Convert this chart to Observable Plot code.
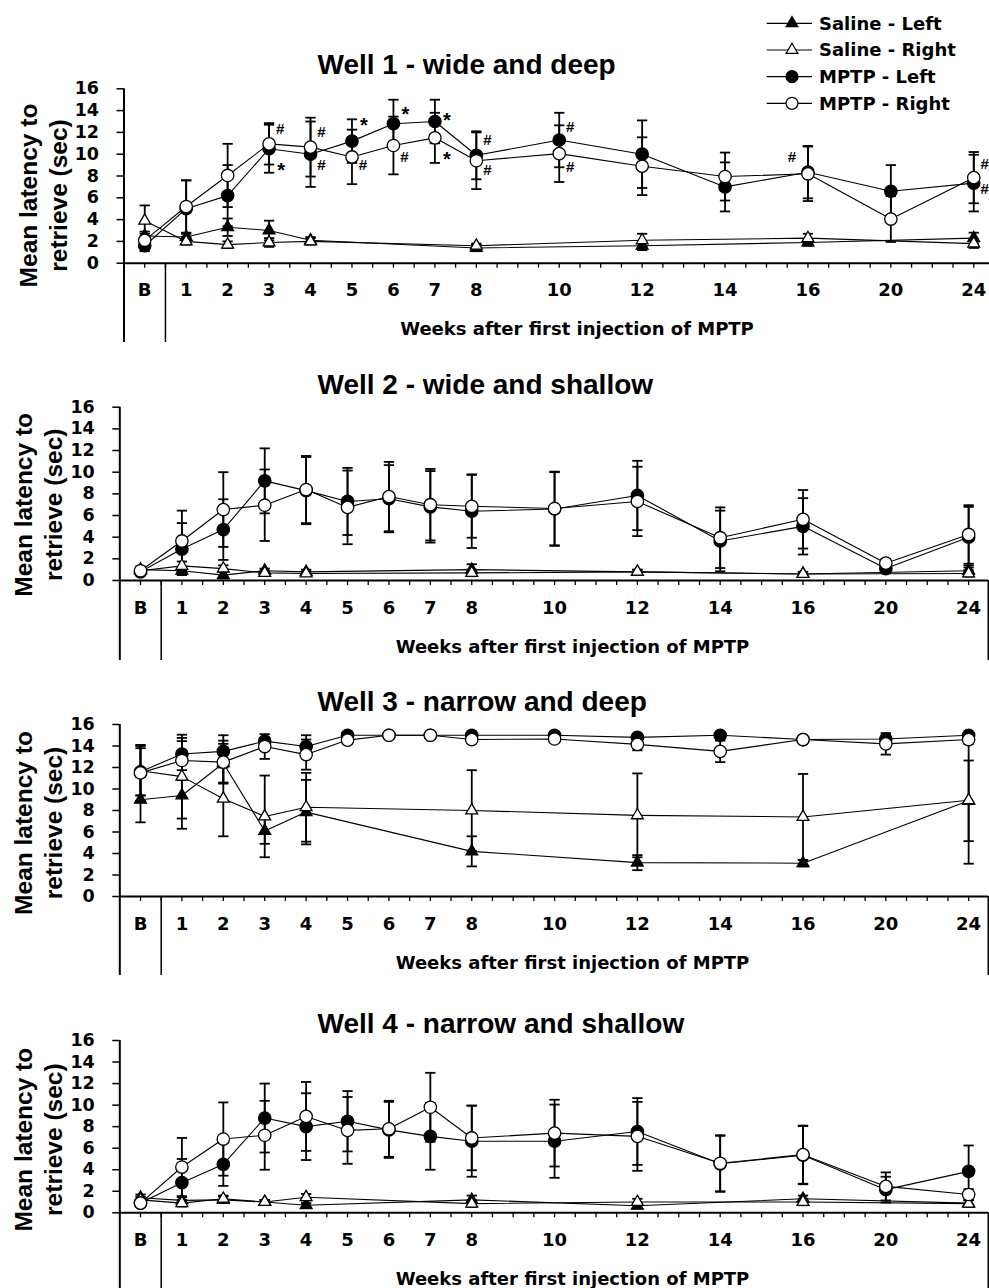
<!DOCTYPE html>
<html>
<head>
<meta charset="utf-8">
<script src="https://cdn.jsdelivr.net/npm/d3@7"></script>
<script src="https://cdn.jsdelivr.net/npm/@observablehq/plot@0.6"></script>
<style>
  html, body { margin: 0; padding: 0; background: #fff; }
  #chart { position: relative; width: 989px; height: 1288px; overflow: hidden; }
  #chart > svg { position: absolute; left: 0; }
</style>
</head>
<body>
<div id="chart"></div>
<script>
// ---------- categories / ticks ----------
const weeks = ["B","1","2","3","4","5","6","7","8","10","12","14","16","20","24"];
const slot  = [0, 1, 2, 3, 4, 5, 6, 7, 8, 10, 12, 14, 16, 18, 20]; // axis slot of each week label
const yTicks = [0, 2, 4, 6, 8, 10, 12, 14, 16];
const seriesNames = ["Saline - Left", "Saline - Right", "MPTP - Left", "MPTP - Right"];
const titles = ["Well 1 - wide and deep", "Well 2 - wide and shallow", "Well 3 - narrow and deep", "Well 4 - narrow and shallow"];
const xAxisTitle = "Weeks after first injection of MPTP";
const yAxisTitle = "Mean latency to\nretrieve (sec)";
const n = null;

// ---------- Well 1 ----------
const w1SalineLeft     = [2.5, 2.4, 3.3, 3.0, 2.1, n, n, n, 1.4, n, 1.6, n, 1.9, n, 2.3];
const w1SalineLeftErr  = [0.4, 0.3, 0.8, 0.9, 0.3, n, n, n, 0.3, n, 0.4, n, 0.3, n, 0.5];
const w1SalineRight    = [3.9, 2.0, 1.7, 1.9, 2.0, n, n, n, 1.6, n, 2.1, n, 2.3, n, 1.8];
const w1SalineRightErr = [1.4, 0.3, 0.3, 0.4, 0.3, n, n, n, 0.2, n, 0.6, n, 0.4, n, 0.4];
const w1MptpLeft       = [1.6, 5.0, 6.2, 10.5, 10.0, 11.2, 12.8, 13.0, 9.9, 11.3, 10.0, 7.0, 8.35, 6.6, 7.35];
const w1MptpLeftErr    = [0.5, 2.6, 2.8, 2.2, 3.0, 2.0, 2.2, 2.0, 2.2, 2.5, 3.1, 2.25, 2.4, 2.4, 2.6];
const w1MptpRight      = [2.1, 5.2, 8.05, 10.95, 10.65, 9.75, 10.8, 11.5, 9.4, 10.05, 8.9, 7.95, 8.2, 4.05, 7.85];
const w1MptpRightErr   = [0.6, 2.4, 2.9, 1.9, 2.7, 2.5, 2.65, 2.3, 2.6, 2.6, 2.65, 2.2, 2.5, 2.1, 2.35];

// ---------- Well 2 ----------
const w2SalineLeft     = [1.0, 0.9, 0.5, 0.9, 0.8, n, n, n, 1.0, n, 0.8, n, 0.6, n, 0.9];
const w2SalineLeftErr  = [0.3, 0.3, 0.3, 0.2, 0.2, n, n, n, 0.5, n, 0.2, n, 0.2, n, 0.5];
const w2SalineRight    = [0.9, 1.35, 1.1, 0.7, 0.65, n, n, n, 0.7, n, 0.8, n, 0.6, n, 0.65];
const w2SalineRightErr = [0.3, 0.4, 0.3, 0.2, 0.2, n, n, n, 0.3, n, 0.2, n, 0.2, n, 0.3];
const w2MptpLeft       = [0.8, 2.9, 4.7, 9.2, 8.3, 7.3, 7.55, 6.8, 6.4, 6.6, 7.85, 3.65, 5.0, 1.1, 4.0];
const w2MptpLeftErr    = [0.3, 2.4, 2.8, 3.0, 3.1, 3.1, 3.1, 3.3, 3.4, 3.4, 3.2, 2.8, 2.6, 0.4, 2.8];
const w2MptpRight      = [0.9, 3.65, 6.55, 6.95, 8.4, 6.75, 7.75, 7.0, 6.85, 6.65, 7.3, 3.95, 5.65, 1.6, 4.25];
const w2MptpRightErr   = [0.3, 2.8, 3.45, 3.3, 3.1, 3.4, 3.2, 3.3, 2.9, 3.4, 3.2, 2.8, 2.7, 0.4, 2.7];

// ---------- Well 3 ----------
const w3SalineLeft     = [9.0, 9.4, 12.4, 6.1, 7.85, n, n, n, 4.2, n, 3.15, n, 3.1, n, 8.9];
const w3SalineLeftErr  = [2.1, 3.1, 1.8, 1.2, 3.0, n, n, n, 1.4, n, 0.7, n, 0.3, n, 3.75];
const w3SalineRight    = [11.7, 11.15, 9.1, 7.45, 8.3, n, n, n, 8.0, n, 7.55, n, 7.4, n, 8.95];
const w3SalineRightErr = [2.3, 3.9, 3.5, 3.8, 3.2, n, n, n, 3.75, n, 3.9, n, 4.0, n, 5.9];
const w3MptpLeft       = [11.6, 13.25, 13.5, 14.45, 13.95, 15.0, 15.0, 15.0, 15.0, 15.0, 14.8, 15.0, 14.6, 14.65, 15.0];
const w3MptpLeftErr    = [2.2, 1.5, 1.5, 0.3, 1.05, 0, 0, 0, 0, 0, 0.2, 0, 0.2, 0.3, 0];
const w3MptpRight      = [11.5, 12.65, 12.5, 13.95, 13.2, 14.55, 15.0, 15.0, 14.6, 14.65, 14.15, 13.5, 14.6, 14.2, 14.6];
const w3MptpRightErr   = [2.6, 1.8, 2.0, 1.15, 1.4, 0.35, 0, 0, 0.3, 0.3, 0.55, 1.0, 0.2, 1.0, 0.4];

// ---------- Well 4 ----------
const w4SalineLeft     = [1.4, 1.15, 1.2, 1.0, 0.7, n, n, n, 1.2, n, 0.65, n, 1.3, n, 0.9];
const w4SalineLeftErr  = [0.3, 0.3, 0.3, 0.2, 0.2, n, n, n, 0.4, n, 0.2, n, 0.3, n, 0.3];
const w4SalineRight    = [1.2, 0.9, 1.3, 1.0, 1.45, n, n, n, 0.85, n, 1.0, n, 1.0, n, 0.85];
const w4SalineRightErr = [0.3, 0.3, 0.3, 0.2, 0.3, n, n, n, 0.3, n, 0.3, n, 0.3, n, 0.3];
const w4MptpLeft       = [0.9, 2.8, 4.5, 8.8, 8.0, 8.5, 7.7, 7.1, 6.65, 6.65, 7.55, 4.55, 5.35, 2.15, 3.85];
const w4MptpLeftErr    = [0.3, 2.2, 2.0, 3.2, 3.1, 2.8, 2.6, 3.1, 3.3, 3.4, 3.1, 2.6, 2.7, 1.2, 2.4];
const w4MptpRight      = [0.9, 4.25, 6.85, 7.2, 8.95, 7.65, 7.8, 9.8, 6.95, 7.4, 7.1, 4.6, 5.4, 2.45, 1.7];
const w4MptpRightErr   = [0.3, 2.7, 3.4, 3.2, 3.2, 3.1, 2.6, 3.2, 3.0, 3.1, 3.2, 2.6, 2.7, 1.3, 0.5];

// ---------- Well 1 significance marks ----------
const annWeek   = ["3", "3", "4", "4", "5", "5", "6", "6", "7", "7", "8", "8", "10", "10", "16", "24", "24"];
const annValue  = [12.3, 8.96, 12.0, 8.96, 13.1, 8.96, 14.07, 9.73, 13.55, 9.97, 11.26, 8.5, 12.48, 8.8, 9.73, 9.1, 6.8];
const annSymbol = ["#", "*", "#", "#", "*", "#", "*", "#", "*", "*", "#", "#", "#", "#", "#", "#", "#"];
const annSide   = ["r", "r", "r", "r", "r", "r", "r", "r", "r", "r", "r", "r", "r", "r", "l", "r", "r"];

// ---------- layout (pixels) ----------
const layouts = [
  {top: 0,   height: 342, mt: 88.3, mb: 79.3, ml: 123.5, mr: 0, xMax: 20.38, titleBase: 15,   yTitleDy: 19.5, xTitleX: 576.5, border: false},
  {top: 342, height: 318, mt: 64.7, mb: 80,   ml: 119.3, mr: 1, xMax: 20.48, titleBase: 13.7, yTitleDy: 11,   xTitleX: 572,   border: true},
  {top: 660, height: 315, mt: 64,   mb: 79,   ml: 119.3, mr: 1, xMax: 20.48, titleBase: 14,   yTitleDy: 12.5, xTitleX: 572,   border: true},
  {top: 975, height: 313, mt: 65,   mb: 75.7, ml: 119.3, mr: 1, xMax: 20.48, titleBase: 8,    yTitleDy: 13,   xTitleX: 572,   border: true}
];

const wellData = [
  [[w1SalineLeft, w1SalineLeftErr], [w1SalineRight, w1SalineRightErr], [w1MptpLeft, w1MptpLeftErr], [w1MptpRight, w1MptpRightErr]],
  [[w2SalineLeft, w2SalineLeftErr], [w2SalineRight, w2SalineRightErr], [w2MptpLeft, w2MptpLeftErr], [w2MptpRight, w2MptpRightErr]],
  [[w3SalineLeft, w3SalineLeftErr], [w3SalineRight, w3SalineRightErr], [w3MptpLeft, w3MptpLeftErr], [w3MptpRight, w3MptpRightErr]],
  [[w4SalineLeft, w4SalineLeftErr], [w4SalineRight, w4SalineRightErr], [w4MptpLeft, w4MptpLeftErr], [w4MptpRight, w4MptpRightErr]]
];

function rowsOf(values, errs, series) {
  return weeks.map((w, i) => values[i] == null ? null :
    {week: w, x: slot[i], v: values[i], e: errs[i] || 0, series}).filter(Boolean);
}

// horizontal cap symbol for error bars
const capSymbol = {
  draw(ctx, size) { const w = Math.sqrt(size); ctx.moveTo(-w, 0); ctx.lineTo(w, 0); }
};

const annRows = annWeek.map((w, i) => ({x: slot[weeks.indexOf(w)], v: annValue[i], sym: annSymbol[i], side: annSide[i]}));

const BOLD = "bold";
const SANS = "DejaVu Sans, sans-serif";
const ARIAL = "Liberation Sans, Arial, sans-serif";

function panel(k) {
  const L = layouts[k];
  const innerH = L.height - L.mt - L.mb;
  const yLow = -L.mb * 16 / innerH;
  const series = wellData[k].map(([v, e], s) => rowsOf(v, e, seriesNames[s]));
  const all = series.flat();
  const withErr = all.filter(d => d.e > 0);
  const symbols = ["triangle", "triangle", "circle", "circle"];
  const fills = ["black", "white", "black", "white"];
  const radii = [4.4, 4.4, 6.2, 6.2];

  const marks = [
    // axis frame lines
    Plot.ruleY([0], {stroke: "black", strokeWidth: 2}),
    Plot.ruleX([-0.5], {y1: 16, y2: yLow, stroke: "black", strokeWidth: 2}),
    Plot.ruleX([0.5], {y1: 0, y2: yLow, stroke: "black", strokeWidth: 1.5}),
    L.border ? Plot.ruleX([L.xMax], {y1: 0, y2: yLow, stroke: "black", strokeWidth: 2}) : null,
    Plot.axisY({ticks: yTicks, tickSize: 7, tickPadding: 18, strokeWidth: 1.5, fontSize: 17.5, fontWeight: BOLD, fontFamily: SANS, label: null}),
    Plot.axisX({ticks: d3.range(0, L.xMax, 0.5), tickSize: 5, strokeWidth: 1.3, tickFormat: () => "", label: null}),
    Plot.axisX({ticks: slot, tickSize: 0, tickPadding: 20.5, tickFormat: d => weeks[slot.indexOf(d)], fontSize: 18, fontWeight: BOLD, fontFamily: SANS, label: null}),
    // error bars
    Plot.ruleX(withErr, {x: "x", y1: d => d.v - d.e, y2: d => d.v + d.e, stroke: "black", strokeWidth: 1.8}),
    Plot.dot(withErr, {x: "x", y: d => d.v + d.e, symbol: capSymbol, r: 2.9, stroke: "black", strokeWidth: 1.8, fill: "none"}),
    Plot.dot(withErr, {x: "x", y: d => d.v - d.e, symbol: capSymbol, r: 2.9, stroke: "black", strokeWidth: 1.8, fill: "none"}),
    // lines
    Plot.line(all, {x: "x", y: "v", z: "series", stroke: "black", strokeWidth: 1.1}),
    // markers
    ...series.map((rows, s) => Plot.dot(rows, {x: "x", y: "v", symbol: symbols[s], r: radii[s], fill: fills[s], stroke: "black", strokeWidth: 1.3})),
    // titles
    Plot.text([titles[k]], {text: d => d, frameAnchor: "top-left", dx: 317 - L.ml, dy: -L.titleBase, textAnchor: "start", lineAnchor: "bottom", fontSize: 28, fontWeight: BOLD, fontFamily: ARIAL}),
    Plot.text([xAxisTitle], {text: d => d, frameAnchor: "bottom-left", dx: L.xTitleX - L.ml, dy: 72, textAnchor: "middle", lineAnchor: "bottom", fontSize: 18, fontWeight: BOLD, fontFamily: SANS}),
    Plot.text([yAxisTitle], {text: d => d, frameAnchor: "left", dx: -82, dy: L.yTitleDy, rotate: -90, textAnchor: "middle", lineAnchor: "middle", lineHeight: 1.22, fontSize: 24.5, fontWeight: BOLD, fontFamily: ARIAL})
  ];

  if (k === 0) {
    marks.push(
      Plot.text(annRows.filter(d => d.sym === "#" && d.side === "r"), {x: "x", y: "v", text: "sym", dx: 11, fontSize: 15, fontWeight: BOLD, fontFamily: ARIAL}),
      Plot.text(annRows.filter(d => d.sym === "#" && d.side === "l"), {x: "x", y: "v", text: "sym", dx: -16, fontSize: 15, fontWeight: BOLD, fontFamily: ARIAL}),
      Plot.text(annRows.filter(d => d.sym === "*"), {x: "x", y: "v", text: "sym", dx: 12, dy: 5, fontSize: 20, fontWeight: BOLD, fontFamily: ARIAL})
    );
  }

  const svg = Plot.plot({
    width: 989,
    height: L.height,
    marginTop: L.mt,
    marginBottom: L.mb,
    marginLeft: L.ml,
    marginRight: L.mr,
    x: {domain: [-0.5, L.xMax]},
    y: {domain: [0, 16]},
    style: {fontFamily: SANS, fontWeight: "bold", color: "black", background: "transparent", overflow: "visible"},
    marks: marks.filter(Boolean)
  });
  svg.style.top = L.top + "px";
  return svg;
}

const chart = document.getElementById("chart");
for (let k = 0; k < 4; k++) chart.appendChild(panel(k));

// ---------- legend ----------
const legendRowY = [23.3, 50, 76.7, 103.3];
const leg = d3.create("svg").attr("width", 989).attr("height", 120)
  .style("position", "absolute").style("top", "0px").style("left", "0px");
seriesNames.forEach((name, i) => {
  const g = leg.append("g").attr("transform", `translate(0,${legendRowY[i]})`);
  g.append("line").attr("x1", 766.7).attr("x2", 812).attr("stroke", "black").attr("stroke-width", 1.2);
  g.append("path").attr("transform", "translate(792,0)")
    .attr("d", d3.symbol(i < 2 ? d3.symbolTriangle : d3.symbolCircle, i < 2 ? 60 : 113)())
    .attr("fill", i % 2 === 0 ? "black" : "white").attr("stroke", "black").attr("stroke-width", 1.2);
  g.append("text").attr("x", 819).attr("dy", "0.36em").text(name)
    .attr("font-family", SANS).attr("font-weight", "bold").attr("font-size", 18).attr("fill", "black");
});
chart.appendChild(leg.node());
</script>
</body>
</html>
